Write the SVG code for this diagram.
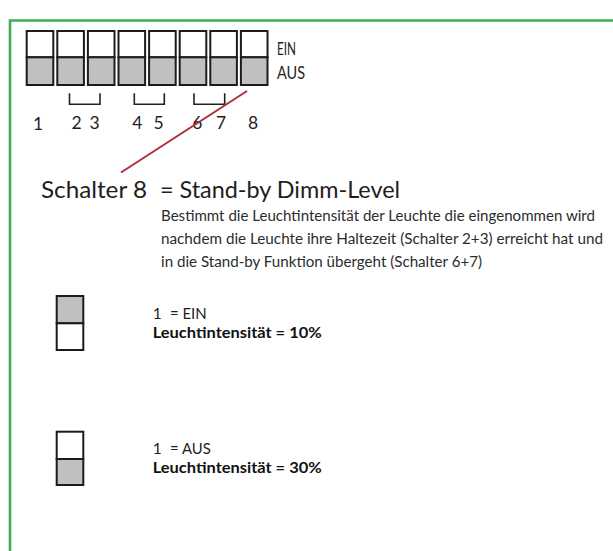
<svg xmlns="http://www.w3.org/2000/svg" width="613" height="551" viewBox="0 0 613 551">
<style>
.sw{stroke:#1c1c1c;stroke-width:2}
.on{fill:#ffffff}
.off{fill:#c0c0c0}
.br{fill:none;stroke:#222;stroke-width:1.6}
.t{font-family:Lato,"Noto Sans","Liberation Sans",sans-serif;fill:#1e1e1e}
.num{font-size:17.5px;text-anchor:middle}
.lab{font-size:17px}
.desc{font-size:14.5px;fill:#2c2c2c}
.opt{font-size:15.5px}
.b{font-weight:bold;fill:#111}
</style>
<rect x="0" y="0" width="613" height="551" fill="#ffffff"/>
<g id="frame">
<path d="M10 551 V20.5 H613" fill="none" stroke="#3fae52" stroke-width="2.6"/>
</g>
<g id="dip-switch">
<rect class="sw on" x="26.7" y="31" width="26.6" height="26.3"/><rect class="sw off" x="26.7" y="57.3" width="26.6" height="27.7"/>
<rect class="sw on" x="57.3" y="31" width="26.6" height="26.3"/><rect class="sw off" x="57.3" y="57.3" width="26.6" height="27.7"/>
<rect class="sw on" x="87.9" y="31" width="26.6" height="26.3"/><rect class="sw off" x="87.9" y="57.3" width="26.6" height="27.7"/>
<rect class="sw on" x="118.5" y="31" width="26.6" height="26.3"/><rect class="sw off" x="118.5" y="57.3" width="26.6" height="27.7"/>
<rect class="sw on" x="149.1" y="31" width="26.6" height="26.3"/><rect class="sw off" x="149.1" y="57.3" width="26.6" height="27.7"/>
<rect class="sw on" x="179.7" y="31" width="26.6" height="26.3"/><rect class="sw off" x="179.7" y="57.3" width="26.6" height="27.7"/>
<rect class="sw on" x="210.3" y="31" width="26.6" height="26.3"/><rect class="sw off" x="210.3" y="57.3" width="26.6" height="27.7"/>
<rect class="sw on" x="240.9" y="31" width="26.6" height="26.3"/><rect class="sw off" x="240.9" y="57.3" width="26.6" height="27.7"/>
<text class="t lab" x="277" y="55" textLength="19" lengthAdjust="spacingAndGlyphs">EIN</text>
<text class="t lab" x="277" y="78.5" textLength="28" lengthAdjust="spacingAndGlyphs">AUS</text>
</g>
<g id="brackets">
<path class="br" d="M69.5 93.3 V104.3 H100 V93.3"/>
<path class="br" d="M134.3 93.3 V104.3 H164.3 V93.3"/>
<path class="br" d="M194 93.3 V104.3 H224.7 V93.3"/>
</g>
<g id="numbers">
<text class="t num" x="38" y="130">1</text>
<text class="t num" x="76.7" y="129.3">2</text>
<text class="t num" x="94.5" y="129.3">3</text>
<text class="t num" x="137.3" y="129.3">4</text>
<text class="t num" x="158.5" y="129.3">5</text>
<text class="t num" x="197.3" y="129.3">6</text>
<text class="t num" x="221" y="129.3">7</text>
<text class="t num" x="253" y="129.3">8</text>
</g>
<g id="connectors">
<line x1="247" y1="91" x2="121" y2="172.5" stroke="#ad2f3e" stroke-width="2"/>
</g>
<g id="title">
<text class="t" x="41" y="198" font-size="24" textLength="106" lengthAdjust="spacingAndGlyphs">Schalter 8</text>
<text class="t" x="160" y="198" font-size="24" textLength="240" lengthAdjust="spacingAndGlyphs">= Stand-by Dimm-Level</text>
</g>
<g id="description">
<text class="t desc" x="161" y="220.5" textLength="434" lengthAdjust="spacingAndGlyphs">Bestimmt die Leuchtintensität der Leuchte die eingenommen wird</text>
<text class="t desc" x="161" y="244" textLength="442" lengthAdjust="spacingAndGlyphs">nachdem die Leuchte ihre Haltezeit (Schalter 2+3) erreicht hat und</text>
<text class="t desc" x="161" y="267" textLength="321" lengthAdjust="spacingAndGlyphs">in die Stand-by Funktion übergeht (Schalter 6+7)</text>
</g>
<g id="option-ein">
<rect class="sw off" x="56.7" y="296" width="26.6" height="27.3"/>
<rect class="sw on" x="56.7" y="323.3" width="26.6" height="26.7"/>
<text class="t opt" x="152.7" y="319.3">1</text>
<text class="t opt" x="170" y="319.3" textLength="36.7" lengthAdjust="spacingAndGlyphs">= EIN</text>
<text class="t opt b" x="152.7" y="338.3" textLength="169" lengthAdjust="spacingAndGlyphs">Leuchtintensität = 10%</text>
</g>
<g id="option-aus">
<rect class="sw on" x="56.7" y="431.7" width="26.6" height="27.3"/>
<rect class="sw off" x="56.7" y="459" width="26.6" height="26"/>
<text class="t opt" x="152.7" y="454">1</text>
<text class="t opt" x="170" y="454" textLength="40.7" lengthAdjust="spacingAndGlyphs">= AUS</text>
<text class="t opt b" x="152.7" y="473.3" textLength="169" lengthAdjust="spacingAndGlyphs">Leuchtintensität = 30%</text>
</g>
</svg>
